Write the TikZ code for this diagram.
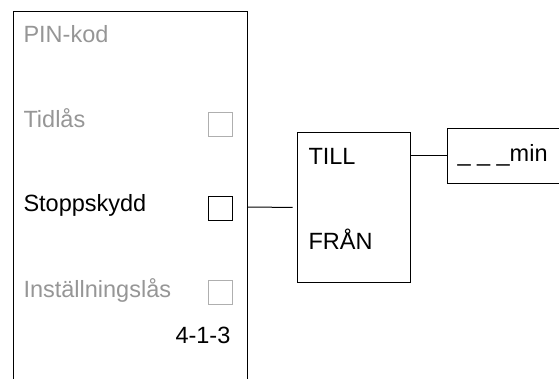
\documentclass[tikz,border=0pt]{standalone}
\usepackage{fontspec}
\setmainfont{Liberation Sans}
\definecolor{dimtext}{RGB}{150,150,150}
\definecolor{dimbox}{RGB}{175,175,175}
\tikzset{
  lbl/.style={anchor=base west,inner sep=0pt,font=\fontsize{23.5}{28}\selectfont},
  chk/.style={draw,line width=1pt,minimum width=24pt,minimum height=24pt,inner sep=0pt},
  frame/.style={draw,line width=1pt}
}
\begin{document}
\begin{tikzpicture}[x=1pt,y=-1pt,line width=1pt]
\useasboundingbox (0,0) rectangle (559,379);
% panel, open at the bottom
\draw[frame] (13,379) -- (13,12) -- (247,12) -- (247,379);
\coordinate (panelout) at (247,207);
\foreach \n/\t/\y/\c in {pin/PIN-kod/43/dimtext,tid/Tidlås/128/dimtext,stopp/Stoppskydd/212/black,inst/Inställningslås/297/dimtext}{\node[lbl,text=\c] (\n) at (23,\y){\t};}
\foreach \n/\y/\c in {tidchk/125/dimbox,stoppchk/209/black,instchk/292/dimbox}{\node[chk,draw=\c] (\n) at (220,\y){};}
\node[lbl] (kod) at (175,343){4-1-3};
% timer box
\node[frame,minimum width=113pt,minimum height=149pt,inner sep=0pt] (onoff) at (353.5,207.5){};
\node[lbl] (till) at (308,165){TILL};
\node[lbl] (fraan) at (308,250){FRÅN};
\node[frame,minimum width=112pt,minimum height=55pt,inner sep=0pt,anchor=north west] (mins) at (447,128){};
\node[lbl] (minlbl) at (457,162){\_ \_ \_min};
\draw[shorten >=4pt] (panelout) -- (onoff.west);
\draw (onoff.east |- mins.west) -- (mins.west);
\end{tikzpicture}
\end{document}
